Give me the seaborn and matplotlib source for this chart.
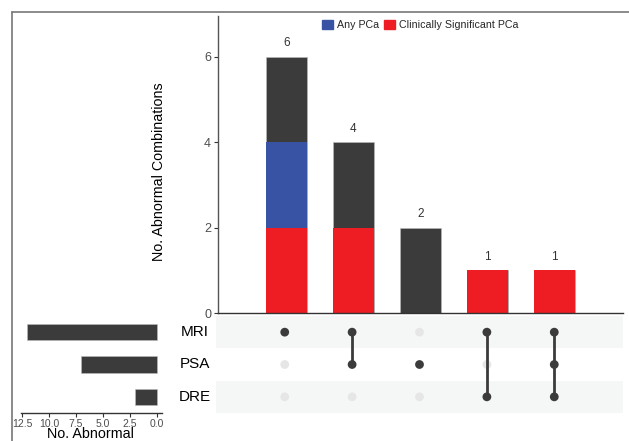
import numpy as np
import pandas as pd
import matplotlib
matplotlib.use("Agg")
import matplotlib.pyplot as plt
import seaborn as sns
from matplotlib.lines import Line2D
from matplotlib.patches import Patch

# ---- data ----
sets = ["MRI", "PSA", "DRE"]
set_sizes = [12, 7, 2]
combos = ["MRI", "MRI&PSA", "PSA", "MRI&DRE", "MRI&PSA&DRE"]
combo_members = [["MRI"], ["MRI", "PSA"], ["PSA"], ["MRI", "DRE"], ["MRI", "PSA", "DRE"]]
total_counts = [6, 4, 2, 1, 1]
any_pca = [2, 0, 0, 0, 0]
sig_pca = [2, 2, 0, 1, 1]
size_ticks = [12.5, 10.0, 7.5, 5.0, 2.5, 0.0]
count_ticks = [0, 2, 4, 6]

DARK = "#3b3b3b"
BLUE = "#3953a4"
RED = "#ee1d23"

sns.set_style("white")
plt.rcParams["font.family"] = ["Liberation Sans", "DejaVu Sans"]

W, H = 629, 441
fig = plt.figure(figsize=(W / 100, H / 100), dpi=100)

def rect(x0, y0, x1, y1):
    return [x0 / W, 1 - y1 / H, (x1 - x0) / W, (y1 - y0) / H]

ax_bar = fig.add_axes(rect(218, 16, 623, 313))
ax_mat = fig.add_axes(rect(216, 316, 623, 413))
ax_size = fig.add_axes(rect(21, 316, 162, 413))

df = pd.DataFrame({"combo": combos, "total": total_counts,
                   "anysig": np.array(any_pca) + np.array(sig_pca),
                   "sig": sig_pca})

# stacked bars via overlapping barplots
sns.barplot(data=df, x="combo", y="total", order=combos, color=DARK, width=0.6,
            saturation=1, edgecolor="#bbbbbb", linewidth=0.4, ax=ax_bar)
sns.barplot(data=df, x="combo", y="anysig", order=combos, color=BLUE, width=0.6,
            saturation=1, linewidth=0, ax=ax_bar)
sns.barplot(data=df, x="combo", y="sig", order=combos, color=RED, width=0.6,
            saturation=1, linewidth=0, ax=ax_bar)
for i, v in enumerate(total_counts):
    ax_bar.text(i, v + 0.17, str(v), ha="center", va="bottom", fontsize=8.5, color="#333333")

ax_bar.set_xlim(-1.02, 5.02)
ax_bar.set_ylim(0, 6.95)
ax_bar.set_yticks(count_ticks)
ax_bar.set_yticklabels([str(t) for t in count_ticks], fontsize=9, color="#4d4d4d")
ax_bar.set_xticks([])
ax_bar.set_xlabel("")
ax_bar.set_ylabel("No. Abnormal Combinations", fontsize=10.3, color="black")
ax_bar.yaxis.set_label_coords(-0.128, 0.475)
ax_bar.tick_params(axis="y", length=3, width=0.8, color="#333333", left=True, pad=2)
for s in ["top", "right"]:
    ax_bar.spines[s].set_visible(False)
ax_bar.spines["left"].set_color("#555555")
ax_bar.spines["left"].set_linewidth(1.0)
ax_bar.spines["bottom"].set_color("#333333")
ax_bar.spines["bottom"].set_linewidth(1.0)

handles = [Patch(color=BLUE, label="Any PCa"), Patch(color=RED, label="Clinically Significant PCa")]
ax_bar.legend(handles=handles, loc="upper center", bbox_to_anchor=(0.50, 1.02), ncol=2,
              frameon=False, fontsize=7.7, handlelength=1.0, handleheight=1.0,
              handletextpad=0.4, columnspacing=0.5)

# matrix
ax_mat.set_xlim(-1.02, 5.02)
ax_mat.set_ylim(2.5, -0.5)
for r in range(len(sets)):
    if r % 2 == 0:
        ax_mat.axhspan(r - 0.5, r + 0.5, color="#f5f7f7", zorder=0, lw=0)
pts = []
for i, mem in enumerate(combo_members):
    for r, s in enumerate(sets):
        pts.append({"x": i, "y": r, "on": s in mem})
pdf = pd.DataFrame(pts)
sns.scatterplot(data=pdf[~pdf.on], x="x", y="y", color="#e6e6e6", s=40, edgecolor="none",
                ax=ax_mat, zorder=2)
for i, mem in enumerate(combo_members):
    rows = [sets.index(m) for m in mem]
    if len(rows) > 1:
        ax_mat.plot([i, i], [min(rows), max(rows)], color=DARK, lw=2, zorder=3)
sns.scatterplot(data=pdf[pdf.on], x="x", y="y", color=DARK, s=40, edgecolor="none",
                ax=ax_mat, zorder=4)
ax_mat.set_xticks([])
ax_mat.set_yticks([])
ax_mat.set_xlabel("")
ax_mat.set_ylabel("")
for s in ax_mat.spines.values():
    s.set_visible(False)

# set sizes
sdf = pd.DataFrame({"set": sets, "size": set_sizes})
sns.barplot(data=sdf, y="set", x="size", order=sets, orient="h", color=DARK, width=0.5,
            saturation=1, edgecolor="#bbbbbb", linewidth=0.4, ax=ax_size)
ax_size.set_xlim(12.6, -0.46)
ax_size.set_ylim(2.5, -0.5)
ax_size.set_xticks(size_ticks)
ax_size.set_xticklabels([f"{t:.1f}" for t in size_ticks], fontsize=7.5, color="#4d4d4d")
ax_size.tick_params(axis="x", length=3, width=0.8, color="#333333", bottom=True, pad=1)
ax_size.set_xlabel("")
ax_size.set_ylabel("")
ax_size.set_yticks([])
for s in ["top", "right", "left"]:
    ax_size.spines[s].set_visible(False)
ax_size.spines["bottom"].set_color("#333333")
ax_size.spines["bottom"].set_linewidth(1.0)
fig.text(90 / W, 1 - 434.5 / H, "No. Abnormal", ha="center", va="center", fontsize=10.3,
         color="black")

for r, s in enumerate(sets):
    y = 332 + r * 32.5
    fig.text(195 / W, 1 - y / H, s, ha="center", va="center", fontsize=11, color="black")

# outer frame lines
fig.add_artist(Line2D([12 / W, 1], [1 - 12 / H, 1 - 12 / H], color="#777777", lw=1.2,
                      transform=fig.transFigure))
fig.add_artist(Line2D([12 / W, 12 / W], [0, 1 - 12 / H], color="#777777", lw=1.2,
                      transform=fig.transFigure))

fig.savefig("out.png", dpi=100)
